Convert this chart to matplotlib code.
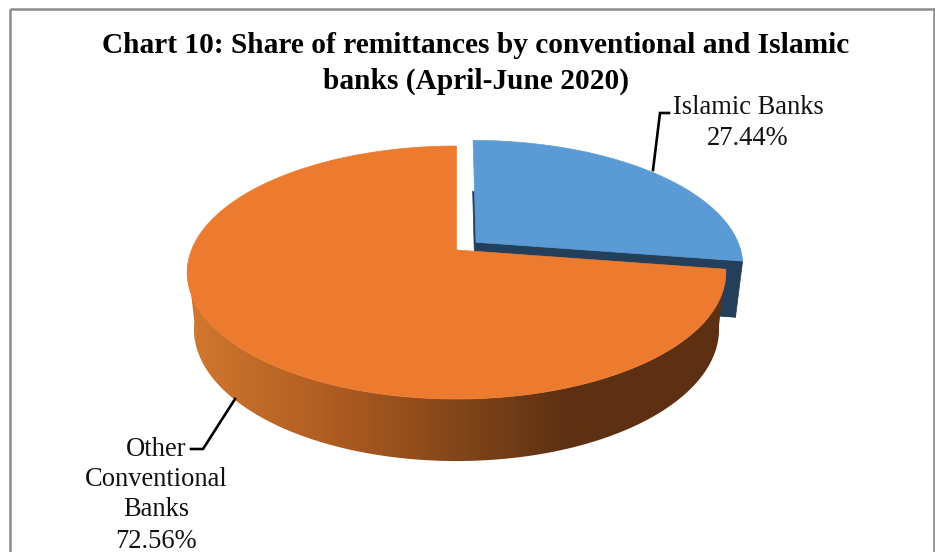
import numpy as np
import matplotlib
matplotlib.use("Agg")
import matplotlib.pyplot as plt
from matplotlib.colors import LinearSegmentedColormap
from matplotlib.patches import Polygon, Rectangle

# Data
categories = ["Islamic Banks", "Other Conventional Banks"]
shares = [27.44, 72.56]
share_labels = ["27.44%", "72.56%"]
title_lines = ["Chart 10: Share of remittances by conventional and Islamic",
               "banks (April-June 2020)"]

# Colours
BLUE, NAVY = "#5B9BD5", "#243F5A"
ORANGE = "#EC7B30"
WALL_STOPS = [(0.0, "#D27830"), (0.30, "#A9591F"), (0.52, "#7F4419"),
              (0.70, "#5E3012"), (1.0, "#5E3012")]

# Tilted-disc projection: a unit disc seen in perspective
CX, APEX_Y = 456.5, 250.0
RX, RY, TILT = 265.0, 78.0, 0.178
DEPTH_X, DEPTH_Y0, DEPTH_YS = 0.975, 305.6, 1.043
EXPLODE = 0.098


def top_face(u, v):
    w = 1 + TILT * v
    return CX + RX * u / w, (APEX_Y - RY * v) / w


def bottom_face(u, v):
    x, y = top_face(u, v)
    return CX + (x - CX) * DEPTH_X, DEPTH_Y0 + (y - APEX_Y) * DEPTH_YS


def disc_arc(a0, a1, n=240, offset=(0.0, 0.0)):
    a = np.linspace(a0, a1, n)
    return np.cos(a) + offset[0], np.sin(a) + offset[1]


def wedge(face, a0, a1, offset=(0.0, 0.0)):
    u, v = disc_arc(a0, a1, offset=offset)
    u = np.r_[offset[0], u]
    v = np.r_[offset[1], v]
    return np.column_stack(face(u, v))


fig = plt.figure(figsize=(9.35, 5.52), dpi=100, facecolor="white")
ax = fig.add_axes([0, 0, 1, 1])
ax.set_xlim(0, 935)
ax.set_ylim(552, 0)
ax.axis("off")

# Slices start at twelve o'clock and run clockwise
total = sum(shares)
start = np.pi / 2
split = start - 2 * np.pi * shares[0] / total
stop = start - 2 * np.pi

# Islamic banks slice, pulled out along its bisector
mid = (start + split) / 2
off = (EXPLODE * np.cos(mid), EXPLODE * np.sin(mid))
ax.add_patch(Polygon(wedge(bottom_face, split, start, off), fc=NAVY, ec=NAVY, lw=0.5, zorder=1))
apex_top = np.array(top_face(off[0], off[1]))
apex_bot = np.array(bottom_face(off[0], off[1]))
end_u, end_v = np.cos(split) + off[0], np.sin(split) + off[1]
ax.add_patch(Polygon([apex_top, top_face(end_u, end_v), bottom_face(end_u, end_v), apex_bot],
                     fc=NAVY, ec=NAVY, lw=0.5, zorder=1))
ax.add_patch(Polygon(wedge(top_face, split, start, off), fc=BLUE, ec=BLUE, lw=0.5, zorder=2))

# Side wall of the conventional banks slice, shaded from left to right
wall_a0, wall_a1 = np.radians(187), split + 2 * np.pi
u, v = disc_arc(wall_a0, wall_a1)
wall = np.vstack([np.column_stack(top_face(u, v)),
                  np.column_stack(bottom_face(u, v))[::-1]])
wall_patch = Polygon(wall, fc="none", ec="none", zorder=3)
ax.add_patch(wall_patch)
cmap = LinearSegmentedColormap.from_list("wall", WALL_STOPS)
img = ax.imshow(np.linspace(0, 1, 512)[None, :], cmap=cmap, aspect="auto",
                extent=(187, 727, 480, 260), zorder=3, interpolation="bilinear")
img.set_clip_path(wall_patch)
ax.set_xlim(0, 935)
ax.set_ylim(552, 0)

# Top face of the conventional banks slice
ax.add_patch(Polygon(wedge(top_face, stop, split), fc=ORANGE, ec=ORANGE, lw=0.5, zorder=4))

# Chart frame
ax.add_patch(Rectangle((10, 9), 924, 560, fc="none", ec="#8C8C8C", lw=1.8, zorder=5))

# Title
serif = "Liberation Serif"
for text, y in zip(title_lines, (45.5, 81.5)):
    ax.text(476, y, text, family=serif, weight="bold", fontsize=21.15, color="black",
            ha="center", va="center", zorder=6)

# Data labels and their leader lines
label_kw = dict(family=serif, fontsize=19.1, color="#111111", ha="center", va="center", zorder=6)
ax.text(748, 107.5, categories[0], **label_kw)
ax.text(748, 138.5, share_labels[0], **label_kw)
other_lines = ["Other", "Conventional", "Banks", share_labels[1]]
for text, y in zip(other_lines, (449, 479, 509, 541)):
    ax.text(156, y, text, **label_kw)
ax.plot([653, 660, 669], [170, 113, 113], color="black", lw=1.9, zorder=6, solid_joinstyle="miter")
ax.plot([235, 203, 191], [399, 449, 449], color="black", lw=1.9, zorder=6, solid_joinstyle="miter")

fig.savefig("out.png", dpi=100, facecolor="white")
